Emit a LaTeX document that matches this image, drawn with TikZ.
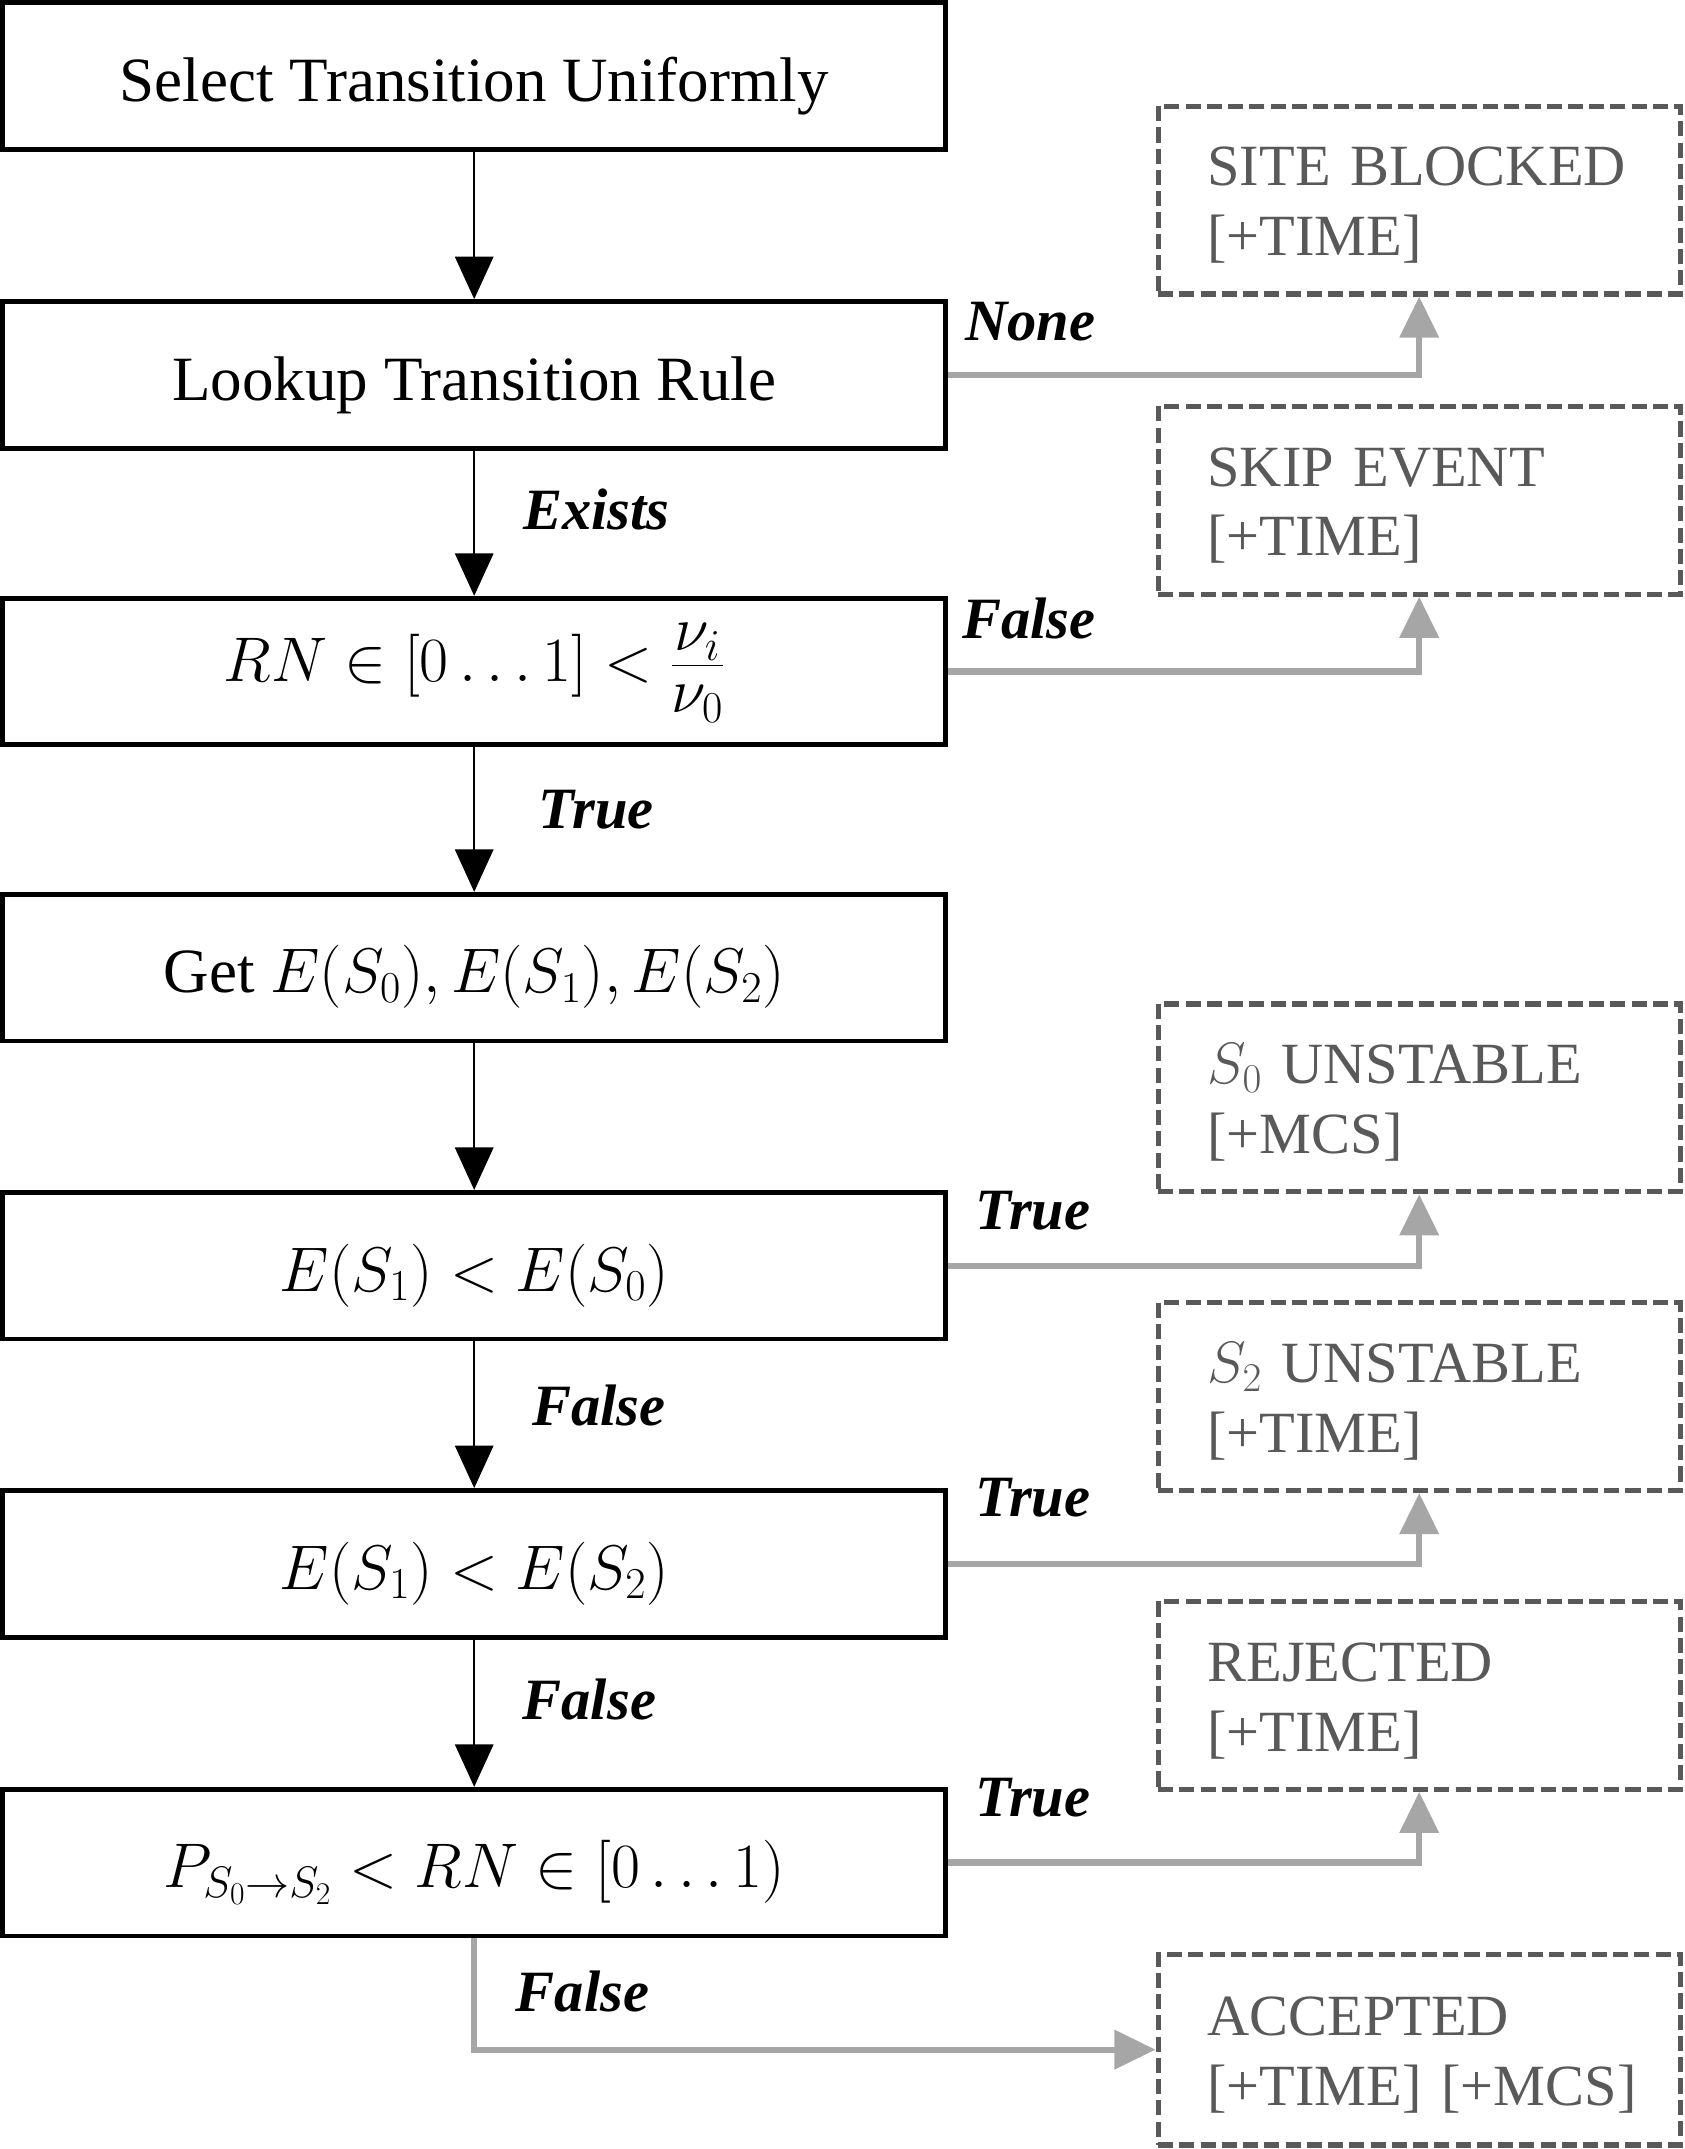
\documentclass[tikz,border=0pt]{standalone}
\usepackage{fix-cm}
\usepackage{fontspec}
\setmainfont{Liberation Serif}
\usetikzlibrary{arrows.meta}
\definecolor{arrowgrey}{HTML}{A6A6A6}
\definecolor{boxgrey}{HTML}{595959}
\newcommand\sbstrut{\rule{0pt}{36pt}}
\begin{document}
\begin{tikzpicture}[x=1pt,y=-1pt,
 mainbox/.style={draw=black, line width=3.5pt, minimum width=688pt, minimum height=107pt, inner sep=0pt, text height=37pt, text depth=0pt, font=\fontsize{46}{55}\selectfont},
 sidebox/.style={draw=boxgrey, line width=3.8pt, dash pattern=on 11pt off 4.5pt, minimum width=381pt, minimum height=137pt, text width=309pt, inner xsep=36pt, inner ysep=0pt, align=left, text=boxgrey, font=\fontsize{42.6}{51}\selectfont},
 flow/.style={draw=black, line width=1.5pt, -{Triangle[length=31pt,width=28pt]}},
 side/.style={draw=arrowgrey, line width=4.5pt, -{Triangle[length=30pt,width=28pt]}},
 lab/.style={font=\fontsize{42.7}{50}\selectfont\bfseries\itshape, text=black},
]
\useasboundingbox (0,0) rectangle (1229,1568);
% main flow
\node[mainbox] (b1) at (346,55.5) {Select Transition Uniformly};
\node[mainbox] (b2) at (346,273.5) {Lookup Transition Rule};
\node[mainbox, text height=14pt] (b3) at (346,490) {$RN\in[0\ldots 1]<\frac{\textstyle\nu_i\rule[-10pt]{0pt}{10pt}}{\textstyle\rule{0pt}{34pt}\nu_0}$};
\node[mainbox] (b4) at (346,706) {Get $E(S_0),E(S_1),E(S_2)$};
\node[mainbox] (b5) at (346,923.5) {$E(S_1)<E(S_0)$};
\node[mainbox] (b6) at (346,1141) {$E(S_1)<E(S_2)$};
\node[mainbox] (b7) at (346,1359) {$P_{S_0\rightarrow S_2}<RN\in[0\ldots 1)$};
% outcome boxes
\node[sidebox] (sA) at (1035.5,146) {\sbstrut SITE BLOCKED\\{}[+TIME]};
\node[sidebox] (sB) at (1035.5,365) {\sbstrut SKIP EVENT\\{}[+TIME]};
\node[sidebox] (sC) at (1035.5,801) {\sbstrut $S_0$ UNSTABLE\\{}[+MCS]};
\node[sidebox] (sD) at (1035.5,1019) {\sbstrut $S_2$ UNSTABLE\\{}[+TIME]};
\node[sidebox] (sE) at (1035.5,1237) {\sbstrut REJECTED\\{}[+TIME]};
\node[sidebox, minimum height=139pt] (sF) at (1035.5,1495.5) {\sbstrut ACCEPTED\\{}[+TIME]~[+MCS]};
% flow arrows
\draw[flow] (b1) -- (b2);
\draw[flow] (b2) -- node[lab, xshift=89pt, yshift=10pt] {Exists} (b3);
\draw[flow] (b3) -- node[lab, xshift=89pt, yshift=7pt] {True} (b4);
\draw[flow] (b4) -- (b5);
\draw[flow] (b5) -- node[lab, xshift=91pt, yshift=7pt] {False} (b6);
\draw[flow] (b6) -- node[lab, xshift=84pt, yshift=10pt] {False} (b7);
% side arrows
\draw[side] (b2.east) -| node[lab, pos=0, xshift=60pt, yshift=39pt] {None} (sA.south);
\draw[side] (b3.east) -| node[lab, pos=0, xshift=59pt, yshift=39pt] {False} (sB.south);
\draw[side] (b5.east) -| node[lab, pos=0, xshift=62pt, yshift=40pt] {True} (sC.south);
\draw[side] (b6.east) -| node[lab, pos=0, xshift=62pt, yshift=48pt] {True} (sD.south);
\draw[side] (b7.east) -| node[lab, pos=0, xshift=62pt, yshift=47pt] {True} (sE.south);
\draw[side] (b7.south) |- node[lab, pos=0.25, xshift=79pt, yshift=2pt] {False} (sF.west);
\end{tikzpicture}
\end{document}
